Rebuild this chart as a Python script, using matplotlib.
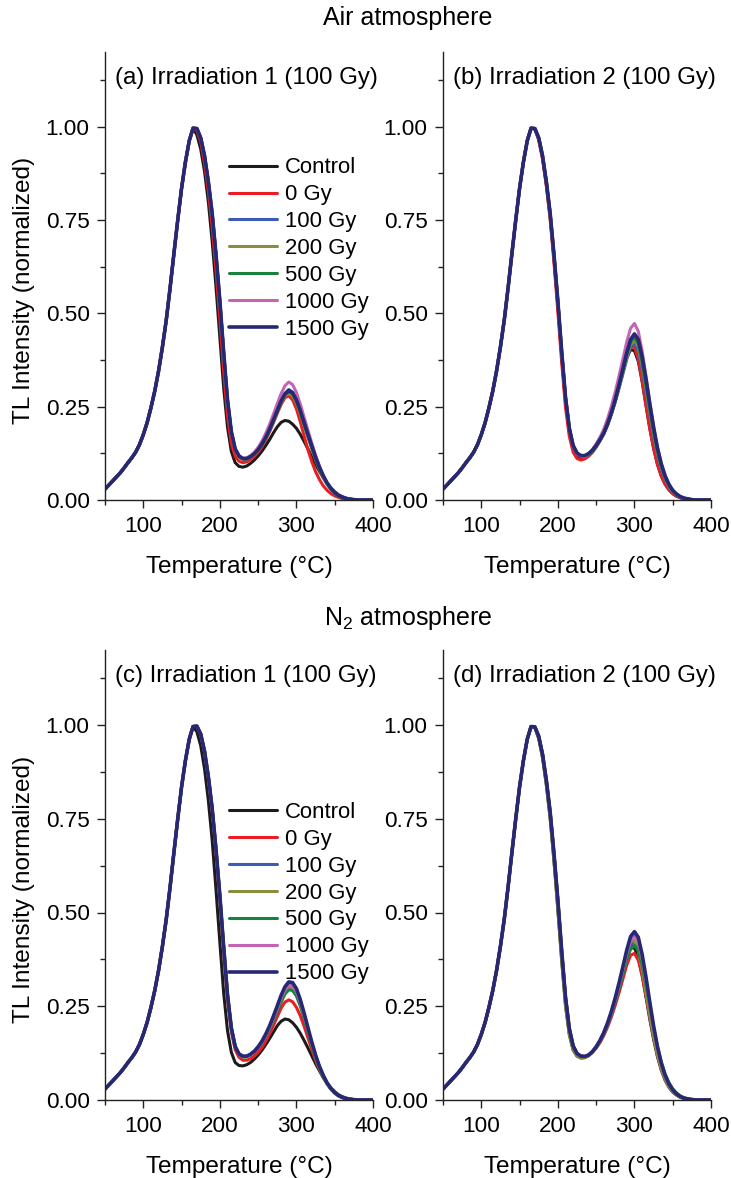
import matplotlib
matplotlib.use('Agg')
import matplotlib.pyplot as plt
from matplotlib.ticker import MultipleLocator

plt.rcParams['font.family'] = ['Liberation Sans', 'DejaVu Sans']
plt.rcParams['mathtext.default'] = 'regular'

# temperature grid (deg C): rising edge shared, tail per curve
temp_rise = list(range(50, 170, 5))
temp_tail = list(range(170, 405, 5))

labels = ['Control', '0 Gy', '100 Gy', '200 Gy', '500 Gy', '1000 Gy', '1500 Gy']
colors = ['#1c1a1b', '#ec1c24', '#3b5bb5', '#8c8c3e', '#17823c', '#c564b4', '#262873']

# rising edge of the main peak (all curves overlap there)
rise = [0.029, 0.040, 0.051, 0.062, 0.073, 0.086, 0.100, 0.113, 0.128, 0.148, 0.175, 0.207,
        0.247, 0.292, 0.346, 0.410, 0.482, 0.568, 0.660, 0.750, 0.835, 0.905, 0.962, 0.996]

# (a) air, irradiation 1
a_control = [0.978, 0.940, 0.880, 0.798, 0.692, 0.570, 0.435, 0.300, 0.195, 0.130, 0.100, 0.090,
             0.088, 0.091, 0.098, 0.107, 0.118, 0.131, 0.146, 0.162, 0.180, 0.196, 0.208, 0.213,
             0.211, 0.203, 0.192, 0.176, 0.157, 0.137, 0.116, 0.096, 0.077, 0.060, 0.045, 0.032,
             0.022, 0.014, 0.009, 0.005, 0.003, 0.001, 0, 0, 0, 0, 0]
a_0gy = [0.990, 0.960, 0.903, 0.828, 0.732, 0.615, 0.485, 0.345, 0.225, 0.152, 0.117, 0.104,
         0.100, 0.102, 0.108, 0.117, 0.128, 0.143, 0.161, 0.183, 0.207, 0.232, 0.256, 0.274,
         0.279, 0.268, 0.244, 0.210, 0.172, 0.135, 0.103, 0.076, 0.055, 0.038, 0.026, 0.017,
         0.011, 0.007, 0.004, 0.002, 0.001, 0, 0, 0, 0, 0, 0]
a_100gy = [0.995, 0.970, 0.922, 0.852, 0.767, 0.656, 0.533, 0.395, 0.268, 0.183, 0.137, 0.118,
           0.111, 0.111, 0.116, 0.124, 0.135, 0.150, 0.168, 0.190, 0.215, 0.241, 0.266, 0.286,
           0.296, 0.289, 0.269, 0.240, 0.208, 0.176, 0.145, 0.115, 0.088, 0.065, 0.046, 0.031,
           0.020, 0.012, 0.007, 0.004, 0.002, 0.001, 0, 0, 0, 0, 0]
a_200gy = [0.995, 0.970, 0.922, 0.852, 0.767, 0.656, 0.533, 0.393, 0.265, 0.180, 0.135, 0.115,
           0.109, 0.109, 0.114, 0.122, 0.133, 0.147, 0.165, 0.186, 0.210, 0.235, 0.260, 0.279,
           0.286, 0.279, 0.259, 0.231, 0.199, 0.168, 0.137, 0.108, 0.082, 0.060, 0.042, 0.028,
           0.018, 0.011, 0.006, 0.003, 0.002, 0.001, 0, 0, 0, 0, 0]
a_500gy = [0.995, 0.970, 0.922, 0.852, 0.767, 0.656, 0.533, 0.394, 0.266, 0.181, 0.136, 0.116,
           0.110, 0.110, 0.115, 0.123, 0.134, 0.148, 0.166, 0.188, 0.212, 0.238, 0.263, 0.282,
           0.291, 0.284, 0.264, 0.235, 0.202, 0.171, 0.140, 0.110, 0.084, 0.061, 0.043, 0.029,
           0.018, 0.011, 0.006, 0.003, 0.002, 0.001, 0, 0, 0, 0, 0]
a_1000gy = [0.995, 0.970, 0.922, 0.852, 0.767, 0.656, 0.533, 0.393, 0.266, 0.182, 0.137, 0.118,
            0.112, 0.113, 0.119, 0.128, 0.141, 0.158, 0.179, 0.203, 0.230, 0.258, 0.285, 0.306,
            0.316, 0.309, 0.288, 0.257, 0.222, 0.187, 0.153, 0.120, 0.091, 0.066, 0.046, 0.031,
            0.020, 0.012, 0.007, 0.004, 0.002, 0.001, 0, 0, 0, 0, 0]
a_1500gy = [0.995, 0.970, 0.922, 0.852, 0.767, 0.656, 0.533, 0.395, 0.268, 0.183, 0.137, 0.118,
            0.111, 0.111, 0.116, 0.124, 0.135, 0.150, 0.168, 0.190, 0.215, 0.240, 0.265, 0.284,
            0.293, 0.287, 0.268, 0.240, 0.208, 0.176, 0.145, 0.115, 0.088, 0.065, 0.046, 0.031,
            0.020, 0.012, 0.007, 0.004, 0.002, 0.001, 0, 0, 0, 0, 0]

# (b) air, irradiation 2
b_control = [0.994, 0.967, 0.917, 0.846, 0.758, 0.645, 0.520, 0.385, 0.262, 0.180, 0.135, 0.117,
             0.112, 0.114, 0.120, 0.130, 0.144, 0.161, 0.181, 0.206, 0.236, 0.270, 0.307, 0.345,
             0.381, 0.403, 0.400, 0.372, 0.318, 0.255, 0.193, 0.140, 0.097, 0.065, 0.043, 0.028,
             0.017, 0.010, 0.006, 0.003, 0.002, 0.001, 0, 0, 0, 0, 0]
b_0gy = [0.993, 0.964, 0.913, 0.840, 0.750, 0.634, 0.505, 0.368, 0.248, 0.170, 0.128, 0.111,
         0.107, 0.110, 0.117, 0.127, 0.141, 0.158, 0.177, 0.202, 0.232, 0.266, 0.304, 0.344,
         0.383, 0.410, 0.410, 0.378, 0.320, 0.255, 0.192, 0.138, 0.095, 0.064, 0.042, 0.027,
         0.017, 0.010, 0.006, 0.003, 0.002, 0.001, 0, 0, 0, 0, 0]
b_100gy = [0.995, 0.970, 0.922, 0.852, 0.767, 0.656, 0.533, 0.398, 0.275, 0.192, 0.145, 0.125,
           0.118, 0.117, 0.121, 0.130, 0.143, 0.159, 0.177, 0.201, 0.230, 0.263, 0.300, 0.338,
           0.377, 0.410, 0.421, 0.400, 0.352, 0.290, 0.228, 0.170, 0.121, 0.083, 0.055, 0.035,
           0.022, 0.013, 0.007, 0.004, 0.002, 0.001, 0, 0, 0, 0, 0]
b_200gy = [0.995, 0.970, 0.922, 0.852, 0.767, 0.656, 0.533, 0.398, 0.275, 0.192, 0.145, 0.125,
           0.118, 0.118, 0.122, 0.131, 0.144, 0.160, 0.178, 0.202, 0.231, 0.264, 0.302, 0.342,
           0.382, 0.416, 0.429, 0.410, 0.362, 0.300, 0.236, 0.176, 0.126, 0.087, 0.058, 0.037,
           0.023, 0.014, 0.008, 0.004, 0.002, 0.001, 0, 0, 0, 0, 0]
b_500gy = [0.995, 0.970, 0.922, 0.852, 0.767, 0.656, 0.533, 0.398, 0.275, 0.192, 0.145, 0.125,
           0.118, 0.118, 0.122, 0.131, 0.144, 0.160, 0.178, 0.202, 0.232, 0.266, 0.305, 0.346,
           0.388, 0.423, 0.437, 0.418, 0.370, 0.308, 0.243, 0.182, 0.130, 0.090, 0.060, 0.039,
           0.024, 0.014, 0.008, 0.004, 0.002, 0.001, 0, 0, 0, 0, 0]
b_1000gy = [0.995, 0.970, 0.922, 0.852, 0.767, 0.656, 0.533, 0.397, 0.274, 0.191, 0.144, 0.124,
            0.117, 0.117, 0.124, 0.135, 0.150, 0.168, 0.190, 0.218, 0.252, 0.290, 0.333, 0.378,
            0.424, 0.460, 0.473, 0.452, 0.400, 0.333, 0.263, 0.198, 0.142, 0.098, 0.066, 0.042,
            0.026, 0.016, 0.009, 0.005, 0.003, 0.001, 0, 0, 0, 0, 0]
b_1500gy = [0.995, 0.970, 0.922, 0.852, 0.767, 0.656, 0.533, 0.398, 0.275, 0.192, 0.146, 0.126,
            0.119, 0.119, 0.124, 0.133, 0.146, 0.162, 0.180, 0.205, 0.235, 0.270, 0.310, 0.352,
            0.395, 0.430, 0.445, 0.430, 0.385, 0.325, 0.258, 0.195, 0.140, 0.097, 0.065, 0.042,
            0.026, 0.016, 0.009, 0.005, 0.003, 0.001, 0, 0, 0, 0, 0]

# (c) N2, irradiation 1
c_control = [0.982, 0.945, 0.883, 0.798, 0.692, 0.560, 0.420, 0.285, 0.185, 0.127, 0.100, 0.092,
             0.091, 0.094, 0.100, 0.109, 0.120, 0.133, 0.148, 0.164, 0.181, 0.198, 0.210, 0.216,
             0.214, 0.206, 0.194, 0.178, 0.159, 0.139, 0.118, 0.097, 0.078, 0.060, 0.045, 0.032,
             0.022, 0.014, 0.009, 0.005, 0.003, 0.001, 0, 0, 0, 0, 0]
c_0gy = [0.996, 0.974, 0.927, 0.857, 0.770, 0.659, 0.533, 0.395, 0.268, 0.182, 0.134, 0.114,
         0.106, 0.106, 0.110, 0.117, 0.127, 0.140, 0.157, 0.177, 0.199, 0.222, 0.245, 0.261,
         0.267, 0.262, 0.247, 0.225, 0.197, 0.166, 0.135, 0.106, 0.081, 0.060, 0.043, 0.029,
         0.019, 0.012, 0.007, 0.004, 0.002, 0.001, 0, 0, 0, 0, 0]
c_100gy = [0.997, 0.976, 0.930, 0.862, 0.777, 0.668, 0.545, 0.408, 0.280, 0.192, 0.143, 0.122,
           0.116, 0.116, 0.122, 0.130, 0.141, 0.156, 0.174, 0.196, 0.221, 0.248, 0.275, 0.298,
           0.310, 0.308, 0.292, 0.264, 0.229, 0.190, 0.153, 0.118, 0.089, 0.065, 0.045, 0.030,
           0.020, 0.012, 0.007, 0.004, 0.002, 0.001, 0, 0, 0, 0, 0]
c_200gy = [0.997, 0.976, 0.930, 0.862, 0.777, 0.668, 0.545, 0.408, 0.280, 0.192, 0.142, 0.121,
           0.115, 0.115, 0.120, 0.128, 0.139, 0.153, 0.170, 0.191, 0.215, 0.240, 0.266, 0.287,
           0.299, 0.297, 0.282, 0.255, 0.221, 0.184, 0.148, 0.114, 0.086, 0.063, 0.044, 0.030,
           0.019, 0.011, 0.007, 0.004, 0.002, 0.001, 0, 0, 0, 0, 0]
c_500gy = [0.997, 0.976, 0.930, 0.862, 0.777, 0.668, 0.545, 0.408, 0.280, 0.192, 0.142, 0.121,
           0.115, 0.115, 0.120, 0.128, 0.138, 0.152, 0.169, 0.189, 0.212, 0.236, 0.261, 0.282,
           0.294, 0.292, 0.277, 0.251, 0.217, 0.181, 0.145, 0.112, 0.084, 0.061, 0.043, 0.029,
           0.018, 0.011, 0.006, 0.003, 0.002, 0.001, 0, 0, 0, 0, 0]
c_1000gy = [0.997, 0.976, 0.930, 0.862, 0.777, 0.668, 0.545, 0.408, 0.280, 0.192, 0.143, 0.122,
            0.116, 0.116, 0.121, 0.129, 0.140, 0.154, 0.172, 0.193, 0.218, 0.244, 0.271, 0.293,
            0.306, 0.304, 0.289, 0.261, 0.226, 0.188, 0.151, 0.117, 0.088, 0.064, 0.045, 0.030,
            0.019, 0.012, 0.007, 0.004, 0.002, 0.001, 0, 0, 0, 0, 0]
c_1500gy = [0.997, 0.976, 0.930, 0.862, 0.777, 0.668, 0.545, 0.408, 0.280, 0.192, 0.143, 0.123,
            0.117, 0.117, 0.122, 0.130, 0.142, 0.157, 0.176, 0.198, 0.224, 0.251, 0.279, 0.302,
            0.315, 0.313, 0.297, 0.268, 0.232, 0.193, 0.155, 0.120, 0.090, 0.066, 0.046, 0.031,
            0.020, 0.012, 0.007, 0.004, 0.002, 0.001, 0, 0, 0, 0, 0]

# (d) N2, irradiation 2
d_control = [0.993, 0.964, 0.913, 0.840, 0.750, 0.636, 0.508, 0.372, 0.252, 0.174, 0.133, 0.117,
             0.112, 0.113, 0.118, 0.127, 0.140, 0.157, 0.178, 0.204, 0.234, 0.268, 0.304, 0.342,
             0.379, 0.405, 0.406, 0.381, 0.334, 0.276, 0.216, 0.162, 0.116, 0.080, 0.053, 0.034,
             0.021, 0.013, 0.007, 0.004, 0.002, 0.001, 0, 0, 0, 0, 0]
d_0gy = [0.995, 0.970, 0.922, 0.852, 0.767, 0.656, 0.533, 0.398, 0.274, 0.190, 0.144, 0.124,
         0.117, 0.116, 0.119, 0.127, 0.138, 0.153, 0.172, 0.195, 0.222, 0.253, 0.287, 0.323,
         0.360, 0.386, 0.391, 0.373, 0.332, 0.280, 0.223, 0.169, 0.122, 0.085, 0.057, 0.037,
         0.023, 0.014, 0.008, 0.004, 0.002, 0.001, 0, 0, 0, 0, 0]
d_100gy = [0.995, 0.970, 0.922, 0.852, 0.767, 0.656, 0.533, 0.398, 0.274, 0.190, 0.144, 0.124,
           0.117, 0.116, 0.119, 0.128, 0.140, 0.156, 0.176, 0.200, 0.229, 0.262, 0.299, 0.338,
           0.379, 0.411, 0.421, 0.405, 0.362, 0.305, 0.242, 0.183, 0.132, 0.091, 0.061, 0.040,
           0.025, 0.015, 0.008, 0.004, 0.002, 0.001, 0, 0, 0, 0, 0]
d_200gy = [0.993, 0.964, 0.913, 0.840, 0.750, 0.636, 0.508, 0.372, 0.252, 0.174, 0.133, 0.117,
           0.112, 0.113, 0.118, 0.127, 0.140, 0.157, 0.178, 0.204, 0.235, 0.271, 0.310, 0.352,
           0.393, 0.424, 0.425, 0.398, 0.348, 0.287, 0.225, 0.168, 0.120, 0.083, 0.055, 0.035,
           0.022, 0.013, 0.007, 0.004, 0.002, 0.001, 0, 0, 0, 0, 0]
d_500gy = [0.995, 0.970, 0.922, 0.852, 0.767, 0.656, 0.533, 0.398, 0.274, 0.190, 0.144, 0.124,
           0.117, 0.116, 0.119, 0.128, 0.140, 0.156, 0.176, 0.200, 0.229, 0.262, 0.298, 0.336,
           0.374, 0.403, 0.412, 0.398, 0.360, 0.308, 0.250, 0.193, 0.143, 0.102, 0.070, 0.047,
           0.030, 0.019, 0.011, 0.006, 0.003, 0.002, 0.001, 0, 0, 0, 0]
d_1000gy = [0.995, 0.970, 0.922, 0.852, 0.767, 0.656, 0.533, 0.398, 0.274, 0.190, 0.144, 0.124,
            0.117, 0.116, 0.120, 0.129, 0.141, 0.158, 0.178, 0.203, 0.233, 0.268, 0.306, 0.347,
            0.390, 0.425, 0.437, 0.422, 0.378, 0.319, 0.253, 0.191, 0.138, 0.095, 0.063, 0.041,
            0.026, 0.015, 0.009, 0.005, 0.002, 0.001, 0, 0, 0, 0, 0]
d_1500gy = [0.995, 0.970, 0.922, 0.852, 0.767, 0.656, 0.533, 0.398, 0.274, 0.190, 0.144, 0.124,
            0.117, 0.116, 0.120, 0.129, 0.142, 0.159, 0.180, 0.206, 0.237, 0.273, 0.313, 0.356,
            0.400, 0.436, 0.449, 0.434, 0.389, 0.329, 0.262, 0.198, 0.143, 0.099, 0.066, 0.043,
            0.027, 0.016, 0.009, 0.005, 0.003, 0.001, 0, 0, 0, 0, 0]

panel_titles = ['(a) Irradiation 1 (100 Gy)', '(b) Irradiation 2 (100 Gy)',
                '(c) Irradiation 1 (100 Gy)', '(d) Irradiation 2 (100 Gy)']
panel_data = [
    [a_control, a_0gy, a_100gy, a_200gy, a_500gy, a_1000gy, a_1500gy],
    [b_control, b_0gy, b_100gy, b_200gy, b_500gy, b_1000gy, b_1500gy],
    [c_control, c_0gy, c_100gy, c_200gy, c_500gy, c_1000gy, c_1500gy],
    [d_control, d_0gy, d_100gy, d_200gy, d_500gy, d_1000gy, d_1500gy],
]

fig = plt.figure(figsize=(7.31, 11.78), dpi=100)
W, H = 731.0, 1178.0
# axes boxes in pixels: left, top(y of 1.2), right, bottom(y of 0)
boxes = [(105, 52, 373, 500), (443, 52, 711, 500),
         (105, 650, 373, 1100), (443, 650, 711, 1100)]

temps = temp_rise + temp_tail
for k in range(4):
    l, t, r, b = boxes[k]
    ax = fig.add_axes([l / W, 1 - b / H, (r - l) / W, (b - t) / H])
    for i in range(7):
        lw = 2.6 if i == 6 else 2.2
        ax.plot(temps, rise + panel_data[k][i], color=colors[i], lw=lw,
                label=labels[i], solid_capstyle='round', solid_joinstyle='round')
    ax.set_xlim(50, 400)
    ax.set_ylim(0, 1.2)
    ax.spines['top'].set_visible(False)
    ax.spines['right'].set_visible(False)
    for s in ['left', 'bottom']:
        ax.spines[s].set_linewidth(1.0)
        ax.spines[s].set_color('#222222')
    ax.xaxis.set_major_locator(MultipleLocator(100))
    ax.xaxis.set_minor_locator(MultipleLocator(50))
    ax.yaxis.set_major_locator(MultipleLocator(0.25))
    ax.yaxis.set_minor_locator(MultipleLocator(0.125))
    ax.yaxis.set_major_formatter(plt.FormatStrFormatter('%.2f'))
    ax.tick_params(which='major', direction='out', length=5.5, width=1.0,
                   labelsize=16.2, color='#222222')
    ax.tick_params(which='minor', direction='out', length=3.5, width=1.0, color='#222222')
    ax.tick_params(axis='y', pad=5.5)
    ax.tick_params(axis='x', pad=6)
    ax.set_xlabel('Temperature (°C)', fontsize=17.6, labelpad=14)
    if k % 2 == 0:
        ax.set_ylabel('TL Intensity (normalized)', fontsize=17.6, labelpad=8, y=0.468)
    ax.text(0.037, 0.942, panel_titles[k], transform=ax.transAxes,
            fontsize=17.3, ha='left', va='center')
    if k % 2 == 0:
        top = 0.765 if k == 0 else 0.663
        ax.legend(loc='upper left', bbox_to_anchor=(0.462, top), frameon=False,
                  fontsize=15.9, handlelength=2.2, handletextpad=0.33,
                  labelspacing=0.27, borderpad=0, borderaxespad=0)

fig.text(408 / W, 1 - 18 / H, 'Air atmosphere', fontsize=18, ha='center', va='center')
fig.text(408 / W, 1 - 618 / H, 'N$_2$ atmosphere', fontsize=18, ha='center', va='center')

fig.savefig('out.png', dpi=100)
